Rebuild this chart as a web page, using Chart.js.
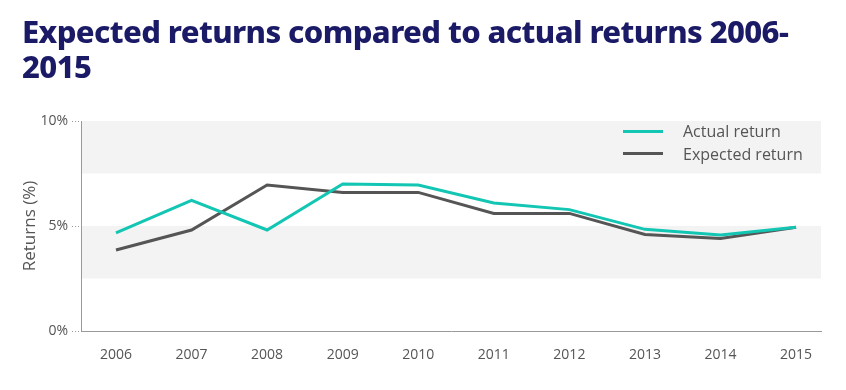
<!DOCTYPE html>
<html>
<head>
<meta charset="utf-8">
<script src="https://cdn.jsdelivr.net/npm/chart.js@4"></script>
<style>
  body { margin: 0; background: #fff; }
  #wrap { position: relative; width: 846px; height: 390px; }
  h1 {
    position: absolute; left: 22px; top: 14px; margin: 0; width: 820px;
    font-family: "Noto Sans", sans-serif; font-weight: 800; font-size: 31px;
    line-height: 35px; color: #1b1a66; letter-spacing: -0.6px;
  }
  #legend {
    position: absolute; left: 623px; top: 120px;
    font-family: "Open Sans", sans-serif; font-size: 16px; color: #555;
  }
  #legend div { height: 22.5px; display: flex; align-items: center; }
  #legend span.sw { display: inline-block; width: 40px; height: 3px; margin-right: 20px; }
  canvas { position: absolute; left: 0; top: 0; }
</style>
</head>
<body>
<div id="wrap">
  <canvas id="myChart" width="846" height="390"></canvas>
  <h1>Expected returns compared to actual returns 2006-<br>2015</h1>
  <div id="legend"></div>
</div>
<script>
const years = ['2006', '2007', '2008', '2009', '2010', '2011', '2012', '2013', '2014', '2015']
const actualReturn = [4.67, 6.22, 4.81, 7.0, 6.95, 6.1, 5.78, 4.84, 4.57, 4.94]
const expectedReturn = [3.86, 4.81, 6.95, 6.6, 6.6, 5.6, 5.6, 4.6, 4.41, 4.94]
const yTicks = [0, 5, 10]
const bands = [[2.5, 5], [7.5, 10]]

const seriesStyle = [
    { label: 'Actual return', data: actualReturn, color: '#13c6b3' },
    { label: 'Expected return', data: expectedReturn, color: '#555555' },
]

// light grey horizontal bands behind the lines
const bandPlugin = {
    id: 'bands',
    beforeDatasetsDraw(chart) {
        const { ctx, chartArea, scales } = chart
        ctx.save()
        ctx.fillStyle = '#f3f3f3'
        bands.forEach(([lo, hi]) => {
            const top = scales.y.getPixelForValue(hi)
            const bottom = scales.y.getPixelForValue(lo)
            ctx.fillRect(chartArea.left + 1, top, chartArea.right - chartArea.left - 1, bottom - top)
        })
        ctx.restore()
    }
}

const legend = document.getElementById('legend')
seriesStyle.forEach(s => {
    const row = document.createElement('div')
    row.innerHTML = '<span class="sw" style="background:' + s.color + '"></span>' + s.label
    legend.appendChild(row)
})

new Chart(document.getElementById('myChart'), {
    type: 'line',
    data: {
        datasets: seriesStyle.map(s => ({
            label: s.label,
            data: s.data.map((v, i) => ({ x: i, y: v })),
            borderColor: s.color,
            backgroundColor: s.color,
            borderWidth: 3,
            pointRadius: 0,
            tension: 0,
        }))
    },
    plugins: [bandPlugin],
    options: {
        responsive: false,
        animation: false,
        layout: { padding: { top: 121, right: 25, left: 0, bottom: 0 } },
        plugins: { legend: { display: false }, tooltip: { enabled: false } },
        scales: {
            x: {
                type: 'linear',
                min: -0.463,
                max: 9.33,
                afterBuildTicks(scale) { scale.ticks = years.map((y, i) => ({ value: i })) },
                grid: { display: false },
                border: { display: true, color: '#999', dash: [1, 2] },
                ticks: {
                    color: '#555', font: { family: 'Open Sans', size: 14 }, padding: 8,
                    callback: v => years[v],
                },
                afterFit(scale) { scale.height = 59 },
            },
            y: {
                min: 0,
                max: 10,
                afterBuildTicks(scale) { scale.ticks = yTicks.map(v => ({ value: v })) },
                grid: { drawOnChartArea: false, tickLength: 9, color: '#999', tickBorderDash: [1, 2] },
                border: { display: true, color: '#999', dash: [1, 2] },
                ticks: {
                    color: '#555', padding: 4,
                    font: { family: 'Open Sans', size: 14 },
                    callback: v => v + '%',
                },
                title: {
                    display: true, text: 'Returns (%)', color: '#555',
                    font: { family: 'Open Sans', size: 17 },
                    padding: { top: 20, bottom: 0 },
                },
                afterFit(scale) { scale.width = 81 },
            }
        }
    }
})
</script>
</body>
</html>
